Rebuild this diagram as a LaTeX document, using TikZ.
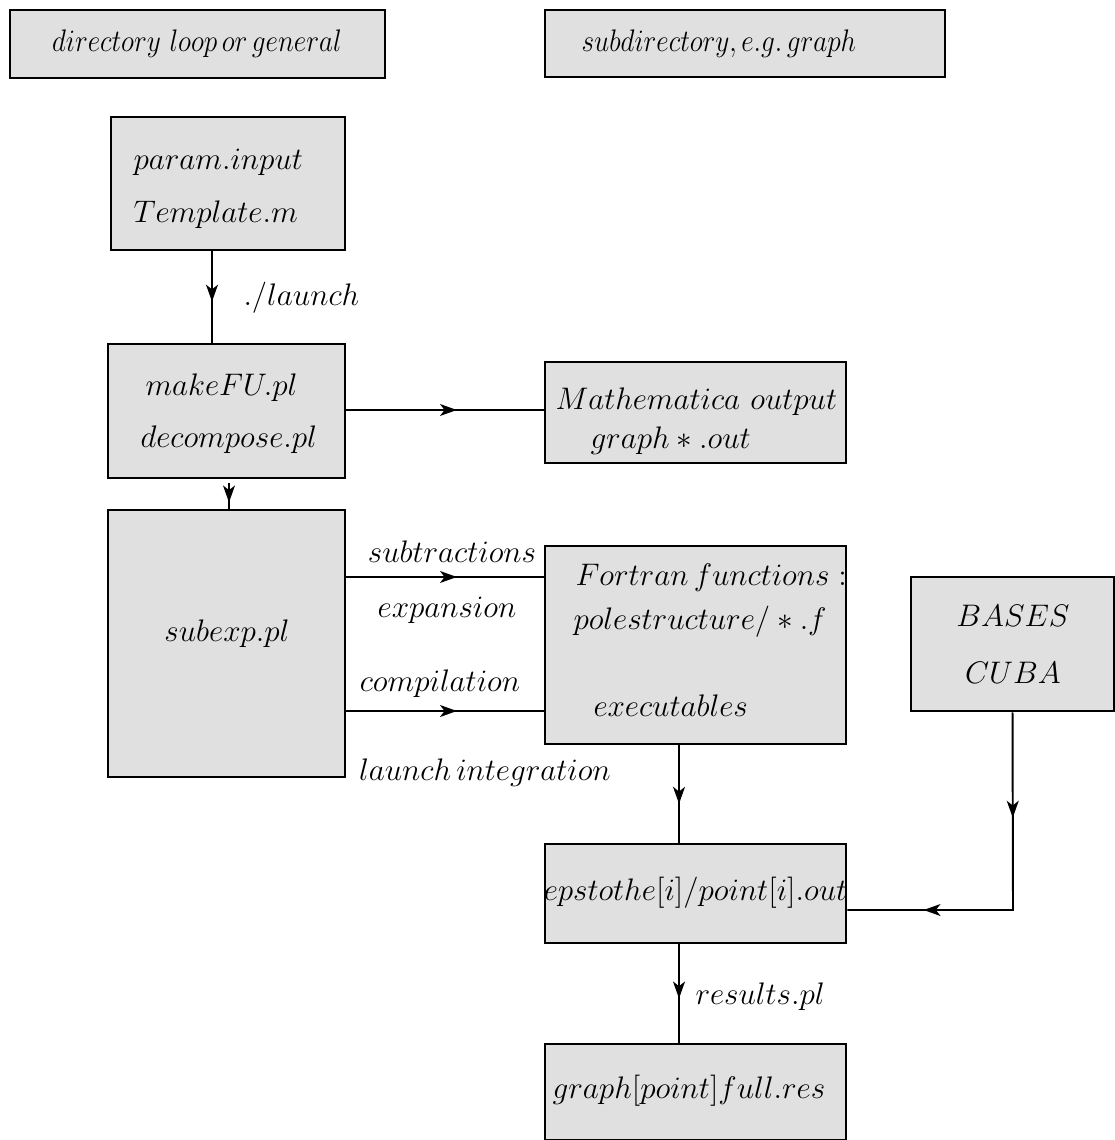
\documentclass[tikz,border=0pt]{standalone}
\usetikzlibrary{arrows.meta,decorations.markings}
\definecolor{boxgray}{RGB}{224,224,224}
\newcommand\px[1]{#1*0.385pt}
\newcommand\narrowtext[1]{\scalebox{0.875}[1]{$#1$}}
\tikzset{
  box/.style={draw=black,line width=1pt,fill=boxgray,rectangle,inner sep=0pt},
  lbl/.style={inner sep=0pt,font=\fontsize{12}{14}\selectfont},
  conn/.style={line width=0.75pt},
  midarrow/.style={postaction={decorate},decoration={markings,
     mark=at position #1 with {\arrow{Stealth[length=6.5pt,width=4.6pt,inset=1.8pt]}}}},
  twoarrow/.style 2 args={postaction={decorate},decoration={markings,
     mark=at position #1 with {\arrow{Stealth[length=6.5pt,width=4.6pt,inset=1.8pt]}},
     mark=at position #2 with {\arrow{Stealth[length=6.5pt,width=4.6pt,inset=1.8pt]}}}}
}
\begin{document}
\begin{tikzpicture}[x=0.385pt,y=-0.385pt]
\useasboundingbox (0,0) rectangle (1114,1140);
% boxes
\node[box,minimum width={\px{375}},minimum height={\px{68}}] (dir) at (197.5,44) {};
\node[box,minimum width={\px{400}},minimum height={\px{67}}] (sub) at (745,43.5) {};
\node[box,minimum width={\px{234}},minimum height={\px{133}}] (param) at (228,183.5) {};
\node[box,minimum width={\px{237}},minimum height={\px{134}}] (make) at (226.5,411) {};
\node[box,minimum width={\px{301}},minimum height={\px{101}}] (math) at (695.5,412.5) {};
\node[box,minimum width={\px{237}},minimum height={\px{267}}] (subexp) at (226.5,643.5) {};
\node[box,minimum width={\px{301}},minimum height={\px{198}}] (fort) at (695.5,645) {};
\node[box,minimum width={\px{203}},minimum height={\px{134}}] (bases) at (1012.5,644) {};
\node[box,minimum width={\px{301}},minimum height={\px{99}}] (eps) at (695.5,893.5) {};
\node[box,minimum width={\px{301}},minimum height={\px{96}}] (res) at (695.5,1092) {};
% texts
\node[lbl] (tdir) at (197,44) {\narrowtext{directory\ loop\,or\,general}};
\node[lbl] (tsub) at (719,44) {\narrowtext{subdirectory, e.g.\,graph}};
\node[lbl,anchor=west] (tp1) at (133,162) {$param.input$};
\node[lbl,anchor=west] (tp2) at (133,215) {$Template.m$};
\node[lbl,anchor=west] (tm1) at (145,388) {$makeFU.pl$};
\node[lbl,anchor=west] (tm2) at (140,440) {$decompose.pl$};
\node[lbl,anchor=west] (tmo1) at (555,402) {$Mathematica\ output$};
\node[lbl,anchor=west] (tmo2) at (590,441) {$graph*.out$};
\node[lbl] (tsx) at (227,634) {$subexp.pl$};
\node[lbl,anchor=west] (tf1) at (575,578) {$Fortran\,functions:$};
\node[lbl,anchor=west] (tf2) at (573,622) {$polestructure/*.f$};
\node[lbl,anchor=west] (tf3) at (593,706) {$executables$};
\node[lbl] (tb1) at (1013,616) {$BASES$};
\node[lbl] (tb2) at (1013,673) {$CUBA$};
\node[lbl] (te) at (695.5,893) {$epstothe[i]/point[i].out$};
\node[lbl] (tr) at (689,1091) {$graph[point]full.res$};
% edge labels
\node[lbl,anchor=west] (llaunch) at (243,298) {$./launch$};
\node[lbl] (lsubt) at (452,552) {$subtractions$};
\node[lbl] (lexp) at (447,610) {$expansion$};
\node[lbl] (lcomp) at (440,684) {$compilation$};
\node[lbl] (lli) at (485,773) {$launch\,integration$};
\node[lbl,anchor=west] (lres) at (695,997) {$results.pl$};
% connectors
\coordinate (bc) at (1013,910);
\draw[conn,midarrow=0.55] (param.south -| 212,0) -- (make.north -| 212,0);
\draw[conn,midarrow=0.56] (make.east |- 0,410) -- (math.west |- 0,410);
\draw[conn,midarrow=0.75] ([yshift={\px{-4}}]make.south -| 229,0) -- (subexp.north -| 229,0);
\draw[conn,midarrow=0.56] (subexp.east |- 0,577) -- (fort.west |- 0,577);
\draw[conn,midarrow=0.56] (subexp.east |- 0,711) -- (fort.west |- 0,711);
\draw[conn,midarrow=0.6] (fort.south -| 679,0) -- (eps.north -| 679,0);
\draw[conn,twoarrow={0.29}{0.79}] (bases.south) -- (bc) -- (eps.east |- bc);
\draw[conn,midarrow=0.55] (eps.south -| 679,0) -- (res.north -| 679,0);
\end{tikzpicture}
\end{document}
